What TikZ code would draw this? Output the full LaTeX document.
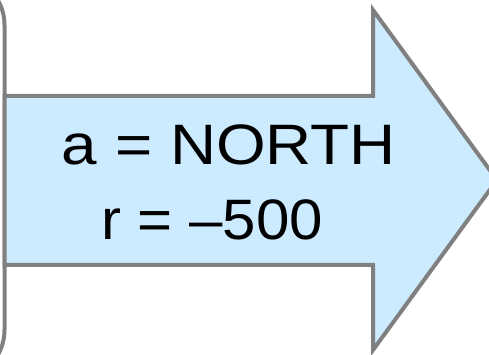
\documentclass[tikz,border=0pt]{standalone}
\usepackage{fontspec}
\setmainfont{Liberation Sans}
\usepackage{tikz}
\definecolor{arrowfill}{RGB}{204,235,255}
\definecolor{edgegray}{RGB}{128,128,128}

\begin{document}
\begin{tikzpicture}[x=1pt,y=1pt,
  outline/.style={draw=edgegray,line width=4pt,line join=miter},
  label/.style={anchor=base,inner sep=0pt,xscale=1.12,transform shape,
                font=\fontsize{57}{68}\selectfont}]
 \def\bx{4.5}\def\hx{373}\def\tx{497}
 \useasboundingbox (0,0) rectangle (489,355);
 \clip (0,0) rectangle (489,355);
 % block on the left, mostly off the page
 \draw[outline,rounded corners=50] (-100,-25) rectangle (\bx,380);
 % big arrow
 \coordinate (bl) at (\bx,90);  \coordinate (tl) at (\bx,259);
 \coordinate (ht) at (\hx,345); \coordinate (hb) at (\hx,5);
 \coordinate (tip) at (\tx,175);
 \filldraw[outline,fill=arrowfill] (bl)--(tl)--(\hx,259)--(ht)--(tip)
   --(hb)--(\hx,90)--cycle;
 \node[label] (aval) at (229,190) {a = NORTH};
 \node[label,xscale=0.94] (rval) at (212,115) {r = –500};
\end{tikzpicture}
\end{document}
